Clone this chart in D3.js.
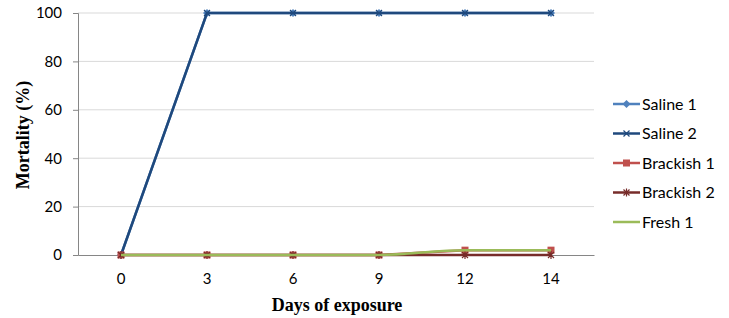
<!DOCTYPE html>
<html>
<head>
<meta charset="utf-8">
<script src="https://cdn.jsdelivr.net/npm/d3@7"></script>
<style>
  body { margin: 0; background: #fff; }
  text { font-family: Lato, "Open Sans", sans-serif; }
</style>
</head>
<body>
<div id="chart"></div>
<script>
// data
let days = ["0", "3", "6", "9", "12", "14"]
let saline1 = [0, 100, 100, 100, 100, 100]
let saline2 = [0, 100, 100, 100, 100, 100]
let brackish1 = [0, 0, 0, 0, 2, 2]
let brackish2 = [0, 0, 0, 0, 0, 0]
let fresh1 = [0, 0, 0, 0, 2, 2]
let yTicks = [0, 20, 40, 60, 80, 100]

let series = [
  {name: "Saline 1", values: saline1, color: "#4F81BD", marker: "diamond"},
  {name: "Saline 2", values: saline2, color: "#1F497D", marker: "cross"},
  {name: "Brackish 1", values: brackish1, color: "#C0504D", marker: "square"},
  {name: "Brackish 2", values: brackish2, color: "#772C2A", marker: "star"},
  {name: "Fresh 1", values: fresh1, color: "#9BBB59", marker: "none"}
]

const width = 729, height = 318
const plot = {left: 78, right: 594, top: 13, bottom: 255}

const svg = d3.select("#chart").append("svg")
  .attr("width", width)
  .attr("height", height)

const x = d3.scaleBand().domain(days).range([plot.left, plot.right])
const cx = d => x(d) + x.bandwidth() / 2
const y = d3.scaleLinear().domain([0, 100]).range([plot.bottom, plot.top])

// gridlines
svg.append("g")
  .selectAll("line")
  .data(yTicks.filter(t => t > 0))
  .join("line")
  .attr("x1", plot.left).attr("x2", plot.right)
  .attr("y1", d => y(d)).attr("y2", d => y(d))
  .attr("stroke", "#D9D9D9").attr("stroke-width", 1)

// y axis
const yAxis = svg.append("g")
  .attr("transform", "translate(" + plot.left + ",0)")
  .call(d3.axisLeft(y).tickValues(yTicks).tickSize(5).tickPadding(11))
yAxis.select(".domain").attr("stroke", "#868686")
yAxis.selectAll(".tick line").attr("stroke", "#868686")
yAxis.selectAll("text").attr("font-size", 15).attr("fill", "#000")
  .style("font-family", "Lato, 'Open Sans', sans-serif")

// x axis
const xAxis = svg.append("g")
  .attr("transform", "translate(0," + plot.bottom + ")")
  .call(d3.axisBottom(x).tickSize(0).tickPadding(18).tickSizeOuter(0))
xAxis.select(".domain").attr("stroke", "#868686")
xAxis.selectAll("text").attr("font-size", 15).attr("fill", "#000")
  .style("font-family", "Lato, 'Open Sans', sans-serif")

// titles
svg.append("text")
  .attr("x", 337)
  .attr("y", 311)
  .attr("text-anchor", "middle")
  .attr("font-size", 18)
  .attr("font-weight", "bold")
  .style("font-family", "'Liberation Serif', 'Times New Roman', serif")
  .text("Days of exposure")

svg.append("text")
  .attr("transform", "translate(29,135) rotate(-90)")
  .attr("text-anchor", "middle")
  .attr("font-size", 18)
  .attr("font-weight", "bold")
  .style("font-family", "'Liberation Serif', 'Times New Roman', serif")
  .text("Mortality (%)")

function drawMarker(g, type, color) {
  if (type == "diamond") {
    g.append("path").attr("d", "M0,-4L4,0L0,4L-4,0Z").attr("fill", color)
  } else if (type == "square") {
    g.append("rect").attr("x", -3.5).attr("y", -3.5).attr("width", 7).attr("height", 7).attr("fill", color)
  } else if (type == "cross") {
    g.append("path").attr("d", "M-3,-3L3,3M-3,3L3,-3").attr("stroke", color).attr("stroke-width", 1.2)
  } else if (type == "star") {
    g.append("path").attr("d", "M-3,-3L3,3M-3,3L3,-3M0,-4V4").attr("stroke", color).attr("stroke-width", 1.2)
  }
}

// lines, drawn bottom to top in legend order
series.forEach(s => {
  let line = d3.line()
    .x((d, i) => cx(days[i]))
    .y(d => y(d))
  if (s.marker == "none") line.curve(d3.curveMonotoneX)
  svg.append("path")
    .datum(s.values)
    .attr("fill", "none")
    .attr("stroke", s.color)
    .attr("stroke-width", 2.5)
    .attr("d", line)

  s.values.forEach((v, i) => {
    let g = svg.append("g").attr("transform", "translate(" + cx(days[i]) + "," + y(v) + ")")
    drawMarker(g, s.marker, s.color)
  })
})

// legend
const legend = svg.append("g")
series.forEach((s, i) => {
  let ly = 104 + i * 29.5
  legend.append("line")
    .attr("x1", 613).attr("x2", 640)
    .attr("y1", ly).attr("y2", ly)
    .attr("stroke", s.color).attr("stroke-width", 2.5)
  let g = legend.append("g").attr("transform", "translate(626.5," + ly + ")")
  drawMarker(g, s.marker, s.color)
  legend.append("text")
    .attr("x", 642).attr("y", ly)
    .attr("dy", "0.35em")
    .attr("font-size", 16)
    .text(s.name)
})
</script>
</body>
</html>
